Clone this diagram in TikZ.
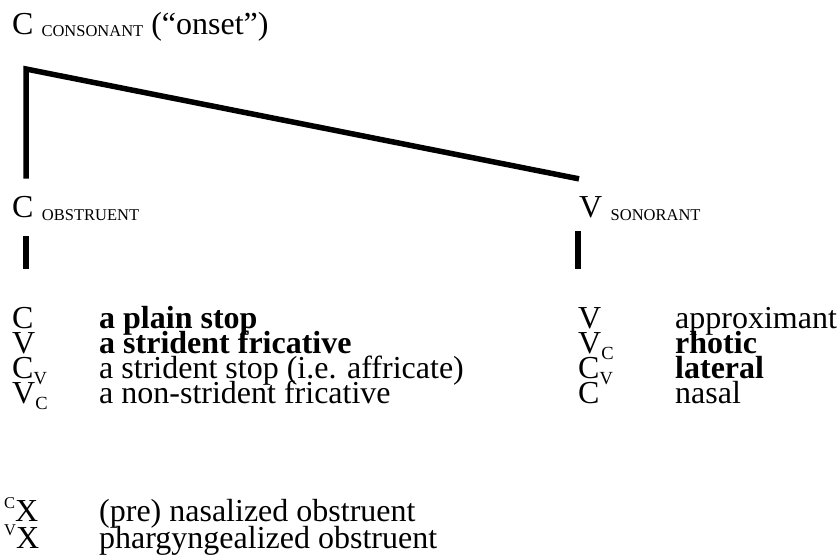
\documentclass[tikz,border=0pt]{standalone}
\usepackage{fontspec}
\setmainfont{Liberation Serif}
\usepackage{tikz}
\usetikzlibrary{positioning}

\newcommand{\tagfont}{\fontsize{16.5}{16.5}\selectfont}
\newcommand{\lsub}[1]{\raisebox{-6pt}{\fontsize{18.5}{18.5}\selectfont #1}}
\newcommand{\lsup}[1]{\raisebox{13pt}{\tagfont #1}}

\begin{document}
\begin{tikzpicture}[
    x=1pt, y=-1pt,
    every node/.style={inner sep=0pt, anchor=base west, font=\fontsize{32}{32}\selectfont},
    tag/.style={font=\tagfont, yshift=-3pt},
    branch/.style={line width=5.5pt, line join=miter}
]
\useasboundingbox (0,0) rectangle (840,554);

% root
\node (onset) at (12,34) {C {\tagfont\raisebox{-2pt}{CONSONANT}} (“onset”)};
\coordinate (top) at (26,69);

% daughters
\node (obs) at (12,217) {C};
\node[tag, right=8pt of obs.base east, anchor=base west] (obsL) {OBSTRUENT};
\node (son) at (579,217) {V};
\node[tag, right=8pt of son.base east, anchor=base west] (sonL) {SONORANT};

\draw[branch] ([yshift=17pt]son.north west) -- (top) -- ([yshift=17pt]obs.north -| top);

% stubs
\coordinate (obsA) at (26,236);
\coordinate (obsB) at (26,269);
\coordinate (sonA) at (578,231);
\coordinate (sonB) at (578,269);
\draw[branch] (obsA) -- (obsB);
\draw[branch] (sonA) -- (sonB);

% obstruent list
\foreach \sym/\desc [count=\i] in {C/\textbf{a plain stop}, V/\textbf{a strident fricative},
    C\lsub{V}/a strident stop (i.e. affricate), V\lsub{C}/a non-strident fricative} {
  \node (obsSym\i) at (12,303+25*\i) {\sym};
  \node (obsDesc\i) at (99,303+25*\i) {\desc};
}

% sonorant list
\foreach \sym/\desc [count=\i] in {V/approximant, V\lsub{C}/\textbf{rhotic},
    C\lsub{V}/\textbf{lateral}, C/nasal} {
  \node (sonSym\i) at (578,303+25*\i) {\sym};
  \node (sonDesc\i) at (675,303+25*\i) {\desc};
}

% secondary articulation
\node (nasSym) at (4,521) {\lsup{C}X};
\node (nasDesc) at (99,521) {(pre) nasalized obstruent};
\node (phaSym) at (4,548) {\lsup{V}X};
\node (phaDesc) at (99,548) {phargyngealized obstruent};
\end{tikzpicture}
\end{document}
